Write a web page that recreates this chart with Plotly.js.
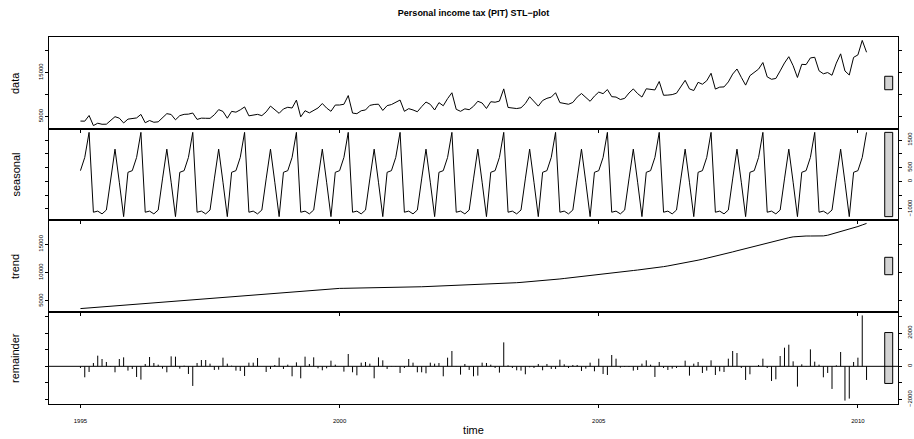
<!DOCTYPE html>
<html>
<head>
<meta charset="utf-8">
<script src="https://cdn.plot.ly/plotly-3.0.1.min.js"></script>
<style>html,body{margin:0;padding:0;background:#fff}#chart{width:914px;height:439px}</style>
</head>
<body>
<div id="chart"></div>
<script>
// ---- series (monthly, Jan 1995 .. Mar 2010) ----
const startYear = 1995;
const frequency = 12;

const dataSeries = [
  3950, 3930, 5220, 2920, 3460, 3220, 3240, 4130, 4950, 4610, 3520, 4390,
  4610, 4665, 5470, 3565, 4080, 3680, 3775, 4720, 5635, 5450, 4240, 5185,
  5480, 5525, 5785, 4330, 4615, 4585, 4570, 5385, 6555, 6140, 4600, 6155,
  5980, 6500, 7175, 5140, 5240, 5480, 5185, 6040, 7360, 6460, 5715, 6710,
  7090, 6920, 8725, 4915, 6310, 5820, 6410, 6930, 7945, 6915, 6175, 7600,
  7610, 7780, 9760, 5770, 5635, 6300, 6485, 7520, 7730, 7795, 6370, 7465,
  7710, 8180, 8740, 6170, 6775, 6485, 6075, 7235, 8285, 7755, 6470, 8150,
  7440, 9065, 10400, 6625, 6170, 6735, 6540, 7315, 8460, 8065, 6820, 8355,
  8240, 8495, 11280, 7050, 6985, 6800, 6975, 7940, 9495, 8305, 7350, 8635,
  9130, 9400, 10405, 8155, 8005, 7780, 8190, 9410, 10225, 9255, 8455, 9640,
  10550, 10195, 11125, 9510, 9415, 8855, 9120, 10335, 11275, 10200, 9415, 11305,
  11190, 11040, 12965, 9825, 9870, 9980, 10295, 11625, 13230, 11280, 10905, 12775,
  12340, 13130, 14835, 11235, 11680, 11730, 12865, 14650, 15810, 13910, 12140, 14290,
  15030, 15790, 17280, 14015, 13470, 13655, 15375, 17180, 18610, 16560, 13880, 16870,
  16810, 18330, 18480, 15400, 14720, 15000, 14380, 17150, 19260, 15360, 14440, 18460,
  19020, 22320, 19620
];

const seasonal = [
  390, 870, 1780, -1120, -1080, -1180, -1040, 90, 1170, -30, -1280, 330,
  390, 870, 1780, -1120, -1080, -1180, -1040, 90, 1170, -30, -1280, 330,
  390, 870, 1780, -1120, -1080, -1180, -1040, 90, 1170, -30, -1280, 330,
  390, 870, 1780, -1120, -1080, -1180, -1040, 90, 1170, -30, -1280, 330,
  390, 870, 1780, -1120, -1080, -1180, -1040, 90, 1170, -30, -1280, 330,
  390, 870, 1780, -1120, -1080, -1180, -1040, 90, 1170, -30, -1280, 330,
  390, 870, 1780, -1120, -1080, -1180, -1040, 90, 1170, -30, -1280, 330,
  390, 870, 1780, -1120, -1080, -1180, -1040, 90, 1170, -30, -1280, 330,
  390, 870, 1780, -1120, -1080, -1180, -1040, 90, 1170, -30, -1280, 330,
  390, 870, 1780, -1120, -1080, -1180, -1040, 90, 1170, -30, -1280, 330,
  390, 870, 1780, -1120, -1080, -1180, -1040, 90, 1170, -30, -1280, 330,
  390, 870, 1780, -1120, -1080, -1180, -1040, 90, 1170, -30, -1280, 330,
  390, 870, 1780, -1120, -1080, -1180, -1040, 90, 1170, -30, -1280, 330,
  390, 870, 1780, -1120, -1080, -1180, -1040, 90, 1170, -30, -1280, 330,
  390, 870, 1780, -1120, -1080, -1180, -1040, 90, 1170, -30, -1280, 330,
  390, 870, 1780
];

const trend = [
  3660, 3720, 3780, 3840, 3900, 3960, 4020, 4080, 4140, 4200, 4260, 4320,
  4380, 4435, 4490, 4545, 4600, 4660, 4715, 4770, 4825, 4880, 4940, 4995,
  5050, 5115, 5185, 5250, 5315, 5385, 5450, 5515, 5585, 5650, 5720, 5785,
  5850, 5910, 5975, 6040, 6100, 6160, 6225, 6290, 6350, 6410, 6475, 6540,
  6600, 6650, 6705, 6755, 6810, 6860, 6910, 6960, 7015, 7065, 7115, 7170,
  7220, 7230, 7240, 7250, 7255, 7260, 7265, 7270, 7280, 7285, 7290, 7295,
  7300, 7330, 7360, 7390, 7415, 7445, 7475, 7505, 7535, 7565, 7590, 7620,
  7650, 7675, 7700, 7725, 7750, 7775, 7800, 7825, 7850, 7875, 7900, 7925,
  7950, 8005, 8060, 8110, 8165, 8220, 8275, 8330, 8385, 8435, 8490, 8545,
  8600, 8690, 8785, 8875, 8965, 9060, 9150, 9240, 9335, 9425, 9515, 9610,
  9700, 9785, 9865, 9950, 10035, 10115, 10200, 10285, 10365, 10450, 10535, 10615,
  10700, 10810, 10925, 11045, 11170, 11300, 11435, 11575, 11720, 11870, 12025, 12185,
  12350, 12520, 12695, 12875, 13060, 13250, 13445, 13640, 13840, 14040, 14240, 14440,
  14640, 14840, 15040, 15235, 15430, 15615, 15795, 15970, 16140, 16290, 16380, 16420,
  16440, 16440, 16420, 16420, 16460, 16580, 16780, 17000, 17230, 17450, 17660, 17870,
  18110, 18390, 18660
];

const remainder = [
  -100, -660, -340, 200, 640, 440, 260, -40, -360, 440, 540, -260,
  -160, -640, -800, 140, 560, 200, 100, -140, -360, 600, 580, -140,
  40, -460, -1180, 200, 380, 380, 160, -220, -200, 520, 160, 40,
  -260, -280, -580, 220, 220, 500, 0, -340, -160, 80, 520, -160,
  100, -600, 240, -720, 580, 140, 540, -120, -240, -120, 340, 100,
  0, -320, 740, -360, -540, 220, 260, 160, -720, 540, 360, -160,
  20, -20, -400, -100, 440, 220, -360, -360, -420, 220, 160, 200,
  -600, 520, 920, 20, -500, 140, -220, -600, -560, 220, 200, 100,
  -100, -380, 1440, 60, -100, -240, -260, -480, -60, -100, 140, -240,
  140, -160, -160, 400, 120, -100, 80, 80, -280, -140, 220, -300,
  460, -460, -520, 680, 460, -80, -40, -40, -260, -220, 160, 360,
  100, -640, 260, -100, -220, -140, -100, -40, 340, -560, 160, 260,
  -400, -260, 360, -520, -300, -340, 460, 920, 800, -100, -820, -480,
  0, 80, 460, -100, -880, -780, 620, 1120, 1300, 300, -1220, 120,
  -20, 1020, 280, 100, -660, -400, -1360, 60, 860, -2060, -1940, 260,
  520, 3060, -820
];

const panelLabels = ['data', 'seasonal', 'trend', 'remainder'];
const xTickVals = [1995, 2000, 2005, 2010];
const xTickText = ['1995', '2000', '2005', '2010'];
const dataTickVals = [5000, 10000, 15000, 20000];
const dataTickText = ['5000', '', '15000', ''];
const seasonalTickVals = [-1000, -500, 0, 500, 1000, 1500];
const seasonalTickText = ['\u22121000', '', '0', '500', '', '1500'];
const trendTickVals = [5000, 10000, 15000];
const trendTickText = ['5000', '10000', '15000'];
const remainderTickVals = [-2000, -1000, 0, 1000, 2000, 3000];
const remainderTickText = ['\u22122000', '', '0', '', '2000', ''];
const titleText = 'Personal income tax (PIT) STL\u2212plot';
const xTitle = 'time';

// ---- layout helpers ----
const W = 914, H = 439;
const plotLeft = 49, plotRight = 898;
const edges = [37, 129, 220, 312, 404];
const FONT = 'Liberation Sans, Arial, Helvetica, sans-serif';

const time = dataSeries.map((_, i) => startYear + i / frequency);
const series = [dataSeries, seasonal, trend, remainder];
function paddedRange(v) {
  const lo = Math.min(...v), hi = Math.max(...v), p = 0.04 * (hi - lo);
  return [lo - p, hi + p];
}
const xRange = paddedRange(time);
const yRanges = series.map(paddedRange);
const spans = series.map(v => Math.max(...v) - Math.min(...v));
const mx = Math.min(...spans);
const dx = (xRange[1] - xRange[0]) / 64;

const xDomain = [plotLeft / W, plotRight / W];
const yDomains = [0, 1, 2, 3].map(i => [1 - edges[i + 1] / H, 1 - edges[i] / H]);
const ticks = [
  [dataTickVals, dataTickText],
  [seasonalTickVals, seasonalTickText],
  [trendTickVals, trendTickText],
  [remainderTickVals, remainderTickText]
];

const suffix = i => (i === 0 ? '' : String(i + 1));

const traces = [];
for (let i = 0; i < 3; i++) {
  traces.push({
    type: 'scatter', mode: 'lines', x: time, y: series[i],
    xaxis: 'x' + suffix(i), yaxis: 'y' + suffix(i),
    line: {color: '#000', width: 1}, hoverinfo: 'skip'
  });
}
// remainder: vertical segments from 0
const segX = [], segY = [];
remainder.forEach((r, i) => { segX.push(time[i], time[i], null); segY.push(0, r, null); });
traces.push({
  type: 'scatter', mode: 'lines', x: segX, y: segY, xaxis: 'x4', yaxis: 'y4',
  line: {color: '#000', width: 1}, hoverinfo: 'skip', connectgaps: false
});

const layout = {
  width: W, height: H,
  margin: {l: 0, r: 0, t: 0, b: 0},
  paper_bgcolor: '#fff', plot_bgcolor: '#fff',
  showlegend: false,
  font: {family: FONT, color: '#000'},
  title: {
    text: '<b>' + titleText + '</b>',
    font: {family: FONT, size: 9, color: '#000'},
    x: (plotLeft + plotRight) / 2 / W, xanchor: 'center', xref: 'paper',
    y: 1 - 13 / H, yanchor: 'middle', yref: 'paper'
  },
  shapes: [],
  annotations: []
};

for (let i = 0; i < 4; i++) {
  const s = suffix(i);
  const xa = {
    domain: xDomain, range: xRange, anchor: 'y' + s,
    showline: true, linecolor: '#000', linewidth: 1, mirror: true,
    ticks: 'outside', ticklen: 3, tickcolor: '#000', tickwidth: 1,
    tickvals: xTickVals, ticktext: xTickText,
    showticklabels: i === 3, tickfont: {size: 6, family: FONT, color: '#000'},
    showgrid: false, zeroline: false, fixedrange: true
  };
  if (i === 3) {
    xa.ticklabelstandoff = 8;
    xa.title = {text: xTitle, font: {size: 11, family: FONT, color: '#000'}, standoff: 3};
  }
  if (i > 0) xa.matches = 'x';
  layout['xaxis' + s] = xa;
  const right = i % 2 === 1;
  layout['yaxis' + s] = {
    domain: yDomains[i], range: yRanges[i], anchor: 'x' + s,
    side: right ? 'right' : 'left',
    showline: true, linecolor: '#000', linewidth: 1, mirror: 'ticks',
    ticks: 'outside', ticklen: 3, tickcolor: '#000', tickwidth: 1,
    tickvals: ticks[i][0], ticktext: ticks[i][1], tickangle: -90,
    ticklabelstandoff: right ? 3 : 0,
    tickfont: {size: 6, family: FONT, color: '#000'},
    showgrid: false, zeroline: false, fixedrange: true
  };
  // range bar
  const mid = (Math.min(...series[i]) + Math.max(...series[i])) / 2;
  layout.shapes.push({
    type: 'rect', xref: 'x' + s, yref: 'y' + s,
    x0: xRange[1] - dx, x1: xRange[1] - 0.4 * dx,
    y0: mid - mx / 2, y1: mid + mx / 2,
    fillcolor: '#D3D3D3', line: {color: '#000', width: 1}, layer: 'above'
  });
  // panel label
  layout.annotations.push({
    text: panelLabels[i], xref: 'paper', yref: 'paper',
    x: 15 / W, y: (yDomains[i][0] + yDomains[i][1]) / 2,
    xanchor: 'center', yanchor: 'middle', textangle: -90, showarrow: false,
    font: {size: 11, family: FONT, color: '#000'}
  });
}
// zero line in remainder panel
layout.shapes.push({
  type: 'line', xref: 'x4 domain', yref: 'y4', x0: 0, x1: 1, y0: 0, y1: 0,
  line: {color: '#000', width: 1}, layer: 'above'
});

Plotly.newPlot('chart', traces, layout, {staticPlot: true, displayModeBar: false});
</script>
</body>
</html>
